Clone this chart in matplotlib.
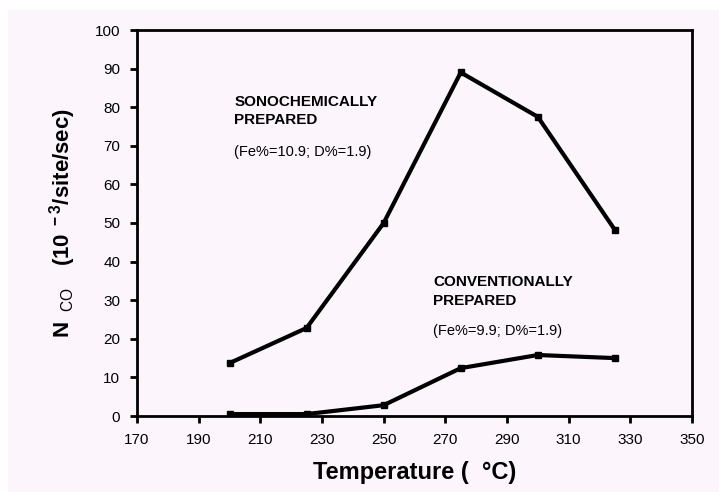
import matplotlib.pyplot as plt
from matplotlib.patches import Rectangle

plt.rcParams['font.family'] = 'Liberation Sans'
plt.rcParams['mathtext.fontset'] = 'custom'
plt.rcParams['mathtext.rm'] = 'Liberation Sans'
plt.rcParams['mathtext.bf'] = 'Liberation Sans:bold'

temps = [200, 225, 250, 275, 300, 325]
sono = [13.7, 22.8, 50.0, 89.0, 77.5, 48.2]
conv = [0.5, 0.5, 2.8, 12.4, 15.8, 15.0]

xticks = list(range(170, 351, 20))
yticks = list(range(0, 101, 10))

bg = '#fcf6fc'

fig = plt.figure(figsize=(7.19, 4.92), dpi=100, facecolor=bg)
# white strips on the left and top edges
fig.patches.append(Rectangle((0, 0), 8 / 719, 1, transform=fig.transFigure,
                             facecolor='white', edgecolor='none', zorder=-1))
fig.patches.append(Rectangle((0, 1 - 10 / 492), 1, 10 / 492, transform=fig.transFigure,
                             facecolor='white', edgecolor='none', zorder=-1))

ax = fig.add_axes([137 / 719, 1 - 416 / 492, 555 / 719, 386 / 492])
ax.set_facecolor(bg)

ax.plot(temps, sono, color='black', lw=3, marker='s', ms=5, solid_joinstyle='miter')
ax.plot(temps, conv, color='black', lw=3, marker='s', ms=5, solid_joinstyle='miter')

ax.set_xlim(170, 350)
ax.set_ylim(0, 100)
ax.set_xticks(xticks)
ax.set_yticks(yticks)
for s in ax.spines.values():
    s.set_linewidth(2)
ax.tick_params(direction='out', length=5, width=2, labelsize=11, pad=7)

ax.text(201.5, 81.4, 'SONOCHEMICALLY', fontsize=11, fontweight='bold', va='center')
ax.text(201.5, 76.7, 'PREPARED', fontsize=11, fontweight='bold', va='center')
ax.text(201.5, 68.4, '(Fe%=10.9; D%=1.9)', fontsize=10.5, va='center')

ax.text(266, 34.7, 'CONVENTIONALLY', fontsize=11, fontweight='bold', va='center')
ax.text(266, 29.8, 'PREPARED', fontsize=11, fontweight='bold', va='center')
ax.text(266, 22.0, '(Fe%=9.9; D%=1.9)', fontsize=10.5, va='center')

ax.set_xlabel('Temperature (  °C)', fontsize=17, fontweight='bold', labelpad=10)
ax.set_ylabel(r'$\mathbf{N}_{\rm\ \ CO}\ \ \ \mathbf{(10^{\ -3}/site/sec)}$', fontsize=16, labelpad=12)

fig.savefig('out.png', dpi=100, facecolor=bg)
